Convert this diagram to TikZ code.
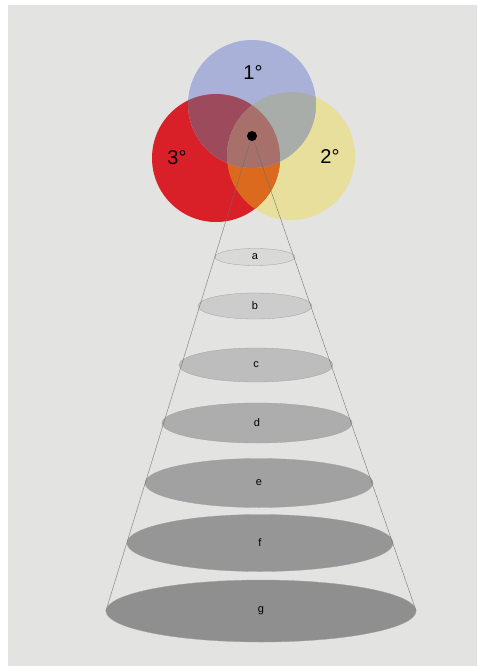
\documentclass[tikz,border=0pt]{standalone}
\usepackage{fontspec}
\setmainfont{Liberation Sans}
\usepackage{xcolor}
\usetikzlibrary{shapes.geometric,positioning}

\definecolor{paper}{HTML}{E3E3E1}
\definecolor{bluec}{HTML}{A9B1D8}
\definecolor{redc}{HTML}{D92028}
\definecolor{yellowc}{HTML}{E8DF9C}
\definecolor{bluered}{HTML}{9C4A5C}
\definecolor{blueyellow}{HTML}{A9ADA9}
\definecolor{redyellow}{HTML}{DC6A1E}
\definecolor{allthree}{HTML}{A8706A}

\begin{document}
\begin{tikzpicture}[
    x=1pt, y=-1pt,
    ring/.style={circle, minimum size=128pt, inner sep=0pt},
    deg/.style={font=\fontsize{20}{24}\selectfont},
    disc/.style={ellipse, draw=gray!75, line width=0.3pt, inner sep=0pt, font=\fontsize{11}{13}\selectfont},
    ray/.style={draw=gray!85!black, line width=0.35pt}
]
\useasboundingbox (0,0) rectangle (477,666);
\fill[white] (0,0) rectangle (477,666);
\fill[paper] (8,5) rectangle (477,666);

\node[ring, fill=yellowc] (second) at (291,156) {};
\node[ring, fill=redc] (third) at (216,158) {};
\begin{scope}
  \clip (third.center) circle (64pt);
  \fill[redyellow] (second.center) circle (64pt);
\end{scope}
\node[ring, fill=bluec] (first) at (252,104) {};
\begin{scope}
  \clip (first.center) circle (64pt);
  \fill[bluered] (third.center) circle (64pt);
  \fill[blueyellow] (second.center) circle (64pt);
  \clip (third.center) circle (64pt);
  \fill[allthree] (second.center) circle (64pt);
\end{scope}

\node[deg] (one) at (253,73) {1°};
\node[deg] (two) at (330,157) {2°};
\node[deg] (three) at (177,158) {3°};

\node[disc, fill=black!15, minimum width=80pt, minimum height=17pt] (a) at (255,257) {a};
\node[disc, fill=black!20, minimum width=114pt, minimum height=26pt] (b) at (255,306) {b};
\node[disc, fill=black!26, minimum width=154pt, minimum height=34pt] (c) at (256,365) {c};
\node[disc, fill=black!32, minimum width=190pt, minimum height=40pt] (d) at (257,423) {d};
\node[disc, fill=black!37, minimum width=228pt, minimum height=49pt] (e) at (259,483) {e};
\node[disc, fill=black!41, minimum width=266pt, minimum height=57pt] (f) at (260,543) {f};
\node[disc, fill=black!44, minimum width=310pt, minimum height=62pt] (g) at (261,611) {g};

\coordinate (apex) at (252,136);
\draw[ray] (apex) -- (g.west);
\draw[ray] (apex) -- (g.east);
\node[circle, fill=black, minimum size=10pt, inner sep=0pt] (dot) at (apex) {};

\end{tikzpicture}
\end{document}
